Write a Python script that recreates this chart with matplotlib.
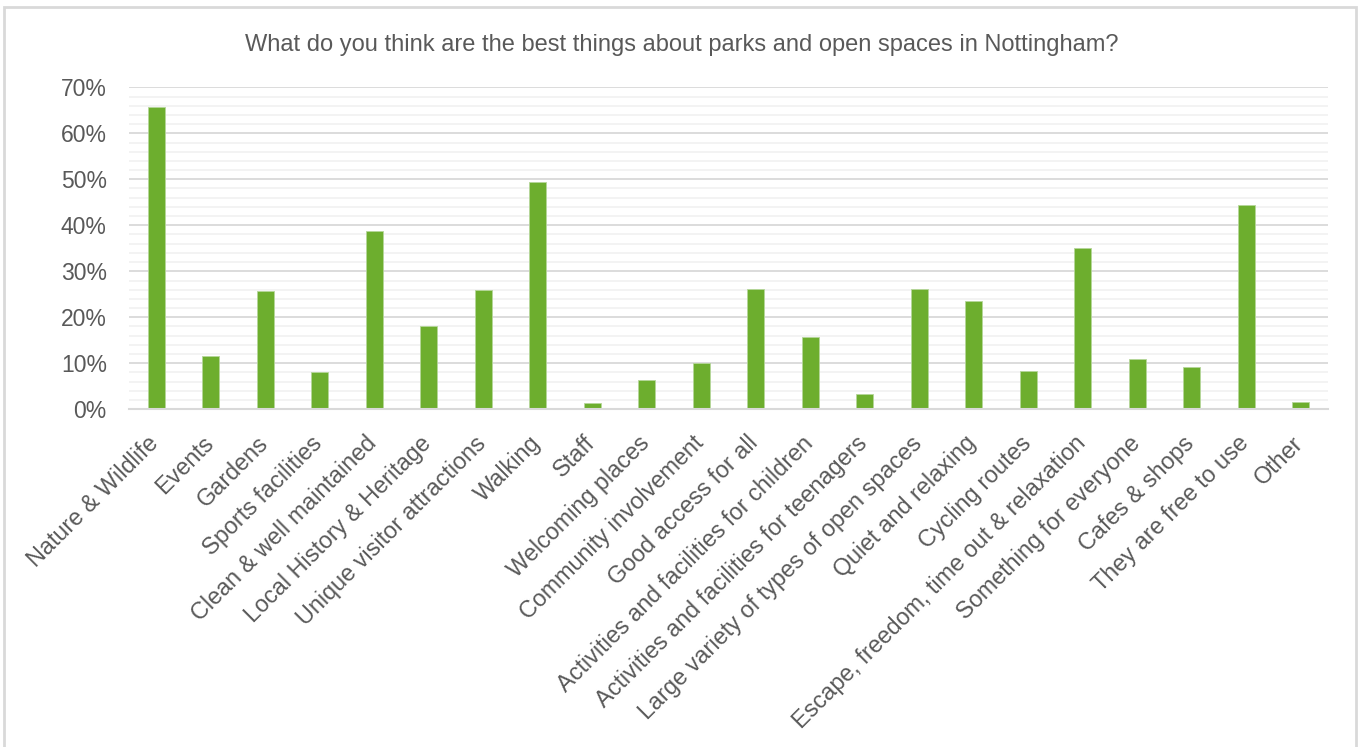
import matplotlib
matplotlib.use("Agg")
import matplotlib.pyplot as plt
from matplotlib.ticker import MultipleLocator, PercentFormatter
from matplotlib.patches import Rectangle
from matplotlib.transforms import ScaledTranslation

categories = [
    "Nature & Wildlife", "Events", "Gardens", "Sports facilities",
    "Clean & well maintained", "Local History & Heritage",
    "Unique visitor attractions", "Walking", "Staff", "Welcoming places",
    "Community involvement", "Good access for all",
    "Activities and facilities for children",
    "Activities and facilities for teenagers",
    "Large variety of types of open spaces", "Quiet and relaxing",
    "Cycling routes", "Escape, freedom, time out & relaxation",
    "Something for everyone", "Cafes & shops", "They are free to use", "Other",
]
percent = [65.8, 11.6, 25.7, 8.0, 38.7, 18.0, 25.9, 49.5, 1.3, 6.3, 10.1,
           26.2, 15.7, 3.3, 26.2, 23.5, 8.3, 35.1, 11.0, 9.1, 44.5, 1.6]

title = "What do you think are the best things about parks and open spaces in Nottingham?"

text_grey = "#595959"
bar_green = "#6DAE2E"

plt.rcParams["font.family"] = ["Liberation Sans", "DejaVu Sans"]

fig = plt.figure(figsize=(13.63, 7.47), dpi=100)
ax = fig.add_axes([129 / 1363, 1 - 409.3 / 747, (1328 - 129) / 1363, (409.3 - 87.3) / 747])

# outer chart frame
fig.patches.append(Rectangle((4 / 1363, -0.01), (1356 - 4) / 1363, 1 - 7 / 747 + 0.01,
                             transform=fig.transFigure, fill=False,
                             edgecolor="#D9D9D9", linewidth=2))

x = range(len(categories))
ax.bar(x, percent, width=0.31, color=bar_green, edgecolor="#B5D69A",
       linewidth=0.6, zorder=3)

ax.set_xlim(-0.5, len(categories) - 0.5)
ax.set_ylim(0, 70)
ax.yaxis.set_major_locator(MultipleLocator(10))
ax.yaxis.set_minor_locator(MultipleLocator(2))
ax.yaxis.set_major_formatter(PercentFormatter(decimals=0))
ax.grid(axis="y", which="major", color="#D9D9D9", linewidth=1.3, zorder=0)
ax.grid(axis="y", which="minor", color="#F2F2F2", linewidth=1.3, zorder=0)

for side in ["top", "right", "left"]:
    ax.spines[side].set_visible(False)
ax.spines["bottom"].set_color("#D9D9D9")
ax.spines["bottom"].set_linewidth(1.5)
ax.spines["bottom"].set_zorder(4)

ax.tick_params(axis="y", which="both", length=0, pad=16, labelsize=16.5,
               labelcolor=text_grey)
ax.tick_params(axis="x", length=0, pad=6, labelsize=16.8, labelcolor=text_grey)
ax.set_xticks(list(x))
ax.set_xticklabels(categories, rotation=45, ha="right", va="top",
                   rotation_mode="anchor")

# nudge the slanted labels down and left
shift = ScaledTranslation(-9 / 100, -14 / 100, fig.dpi_scale_trans)
for lab in ax.get_xticklabels():
    lab.set_transform(lab.get_transform() + shift)

fig.text(0.5, 1 - 45 / 747, title, ha="center", va="center",
         fontsize=17, color=text_grey)

fig.savefig("out.png", dpi=100, facecolor="white")
